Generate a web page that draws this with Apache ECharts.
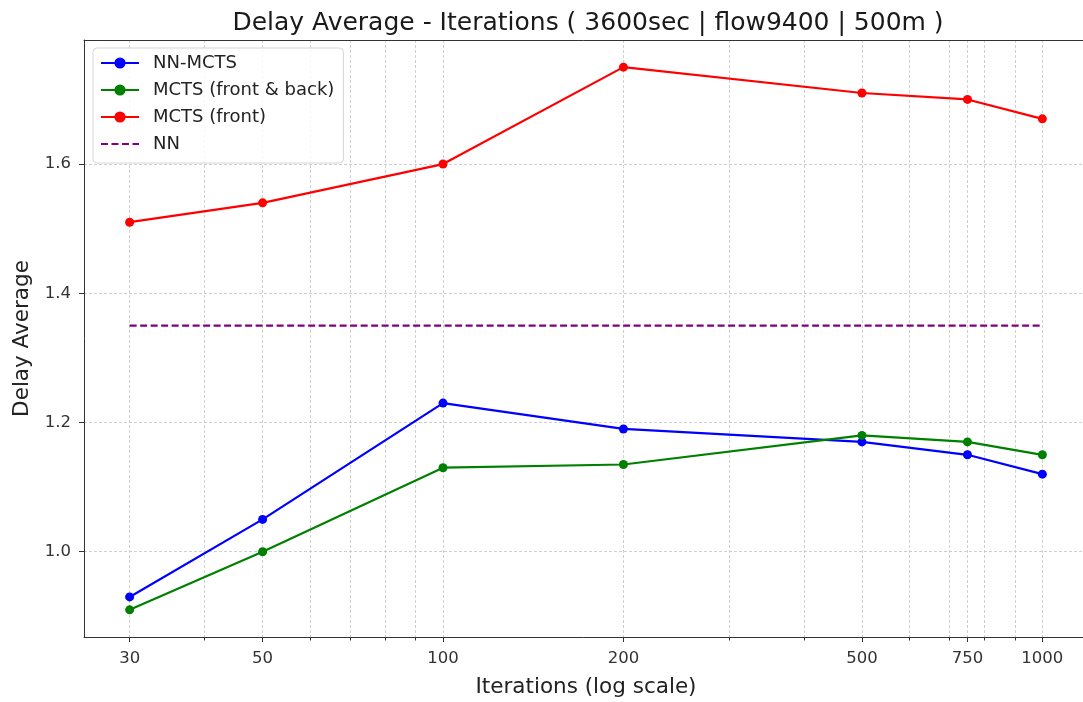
<!DOCTYPE html>
<html>
<head>
<meta charset="utf-8">
<style>
  html, body { margin: 0; padding: 0; background: #fff; }
  #chart { width: 1083px; height: 702px; }
</style>
<script src="https://cdn.jsdelivr.net/npm/echarts@6/dist/echarts.min.js"></script>
</head>
<body>
<div id="chart"></div>
<script>
// Iteration counts on the log-scaled x axis
const iterations = [30, 50, 100, 200, 500, 750, 1000];

// Delay averages per method
const nnMcts = [0.93, 1.05, 1.23, 1.19, 1.17, 1.15, 1.12];
const mctsFrontBack = [0.91, 1.00, 1.13, 1.135, 1.18, 1.17, 1.15];
const mctsFront = [1.51, 1.54, 1.60, 1.75, 1.71, 1.70, 1.67];
const nnBaseline = 1.35;

// Tick positions
const xMajorTicks = [30, 50, 100, 200, 500, 750, 1000];
const xMinorTicks = [40, 60, 70, 80, 90, 300, 400, 600, 700, 800, 900];
const yTicks = [1.0, 1.2, 1.4, 1.6];

const FONT = '"DejaVu Sans", sans-serif';
const pairs = ys => iterations.map((x, i) => [x, ys[i]]);

// Axis limits with 5% padding (log space for x)
const lx0 = Math.log10(30), lx1 = Math.log10(1000);
const xPad = (lx1 - lx0) * 0.05;
const xMin = Math.pow(10, lx0 - xPad);
const xMax = Math.pow(10, lx1 + xPad);
const yLo = 0.91, yHi = 1.75, yPad = (yHi - yLo) * 0.05;

const gridLine = { show: true, lineStyle: { color: '#c4c4c4', width: 0.8, type: [3, 2] } };
const spine = { show: true, onZero: false, lineStyle: { color: '#333', width: 1 } };

const chart = echarts.init(document.getElementById('chart'), null, { renderer: 'canvas' });

function lineSeries(name, color, data) {
  return {
    name, type: 'line', xAxisIndex: 0, data,
    symbol: 'circle', symbolSize: 9,
    lineStyle: { color, width: 2.2 },
    itemStyle: { color },
    animation: false
  };
}

chart.setOption({
  animation: false,
  title: {
    text: 'Delay Average - Iterations ( 3600sec | flow9400 | 500m )',
    left: 583, top: 6, textAlign: 'center',
    textStyle: { fontFamily: FONT, fontSize: 25, fontWeight: 'normal', color: '#1a1a1a' }
  },
  legend: {
    orient: 'vertical', left: 93, top: 48,
    padding: [6, 9, 10, 7],
    itemWidth: 38, itemHeight: 14, itemGap: 9,
    backgroundColor: 'rgba(255,255,255,0.85)',
    borderColor: '#d5d5d5', borderWidth: 1, borderRadius: 4,
    textStyle: { fontFamily: FONT, fontSize: 18, color: '#222', lineHeight: 18, padding: [0, 0, 0, 9] },
    data: [
      'NN-MCTS',
      'MCTS (front & back)',
      'MCTS (front)',
      { name: 'NN', itemStyle: { opacity: 0 } }
    ]
  },
  grid: {
    left: 84, top: 40, width: 1004, height: 597,
    outerBoundsMode: 'none',
    show: false
  },
  xAxis: [
    {
      type: 'log', logBase: 10, min: xMin, max: xMax,
      name: 'Iterations (log scale)', nameLocation: 'middle', nameGap: 39,
      nameTextStyle: { fontFamily: FONT, fontSize: 21.5, color: '#222' },
      axisLine: spine,
      axisTick: { show: true, customValues: xMajorTicks, length: 5, lineStyle: { color: '#333' } },
      axisLabel: {
        customValues: xMajorTicks, margin: 13,
        fontFamily: FONT, fontSize: 16.5, color: '#333',
        formatter: v => String(Math.round(v))
      },
      splitLine: gridLine, minorTick: { show: false }, minorSplitLine: { show: false }
    },
    {
      // minor ticks and their grid lines
      type: 'log', logBase: 10, min: xMin, max: xMax, position: 'bottom',
      axisLine: { show: false },
      axisTick: { show: true, customValues: xMinorTicks, length: 3.5, lineStyle: { color: '#333' } },
      axisLabel: { show: false },
      splitLine: gridLine
    },
    {
      // top frame line
      type: 'log', logBase: 10, min: xMin, max: xMax, position: 'top',
      axisLine: spine,
      axisTick: { show: false },
      axisLabel: { show: false },
      splitLine: { show: false }
    }
  ],
  yAxis: {
    type: 'value', min: yLo - yPad, max: yHi + yPad,
    name: 'Delay Average', nameLocation: 'middle', nameGap: 51,
    nameTextStyle: { fontFamily: FONT, fontSize: 21.5, color: '#222' },
    axisLine: spine,
    axisTick: { show: true, customValues: yTicks, length: 5, lineStyle: { color: '#333' } },
    axisLabel: {
      customValues: yTicks, margin: 13,
      fontFamily: FONT, fontSize: 16.5, color: '#333',
      formatter: v => v.toFixed(1)
    },
    splitLine: gridLine
  },
  series: [
    lineSeries('NN-MCTS', '#0000ff', pairs(nnMcts)),
    lineSeries('MCTS (front & back)', '#008000', pairs(mctsFrontBack)),
    lineSeries('MCTS (front)', '#ff0000', pairs(mctsFront)),
    {
      name: 'NN', type: 'line', xAxisIndex: 0,
      data: iterations.map(x => [x, nnBaseline]),
      symbol: 'none', showSymbol: false,
      lineStyle: { color: '#800080', width: 2.2, type: [7, 3.5] },
      itemStyle: { color: '#800080' },
      animation: false
    }
  ]
});
</script>
</body>
</html>
